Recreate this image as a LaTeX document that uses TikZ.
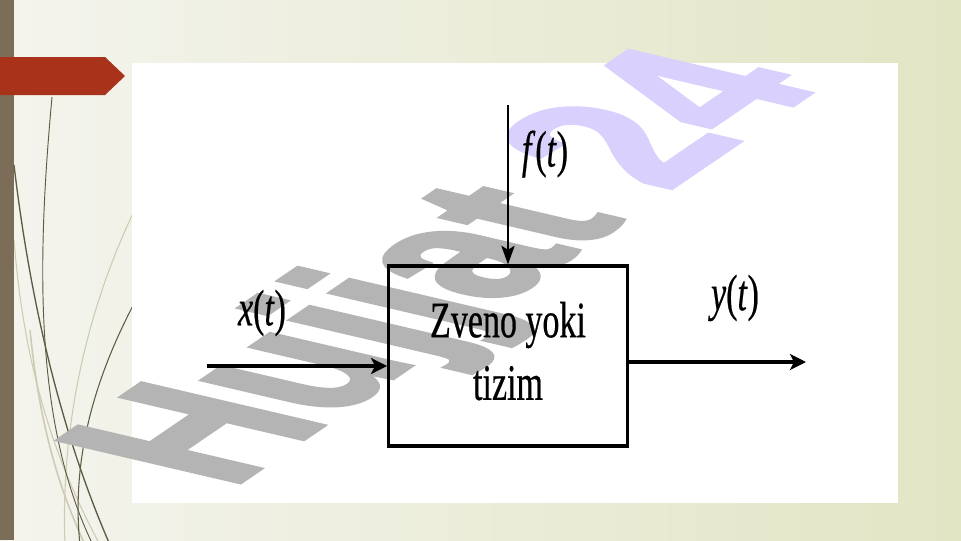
\documentclass[tikz,border=0pt]{standalone}
\usepackage{graphicx}
\usepackage{fontspec}
\setmainfont{Liberation Serif}[FakeBold=0.6]
\newfontfamily\markfont{Liberation Sans Bold}[FakeBold=2.5]
\usetikzlibrary{arrows.meta,calc}

\definecolor{slideleft}{HTML}{F4F4EE}
\definecolor{slideright}{HTML}{E2E5C4}
\definecolor{barbrown}{HTML}{7B6D58}
\definecolor{bannerred}{HTML}{A8321A}
\definecolor{stem}{HTML}{5F5B43}
\definecolor{stemlight}{HTML}{CFCAB2}
\definecolor{markgray}{HTML}{B4B4B4}
\definecolor{markpurple}{HTML}{D9D0FD}

\newcommand{\tall}[1]{\scalebox{1}[1.5]{#1}}

\begin{document}
\begin{tikzpicture}[x=0.75pt, y=-0.75pt]
		%%%%% START %%%%%
		\useasboundingbox (0, 0) rectangle (961, 540);
		
		\shade[left color=slideleft, right color=slideright] (0, 0) rectangle (961, 540);
		
		% grass stems behind the panel
		\draw[line width=0.8pt, color=stemlight] (150, 180) .. controls (90, 290) and (60, 420) .. (65, 545);
		\draw[line width=0.8pt, color=stemlight] (14, 240) .. controls (25, 380) and (60, 470) .. (100, 545);
		\draw[line width=1.2pt, color=stemlight] (30, 330) .. controls (40, 430) and (60, 490) .. (85, 545);
		\draw[line width=0.7pt, color=stem] (52, 97) .. controls (38, 250) and (32, 420) .. (93, 545);
		\draw[line width=1.0pt, color=stem] (14, 165) .. controls (30, 300) and (60, 430) .. (110, 545);
		\draw[line width=0.8pt, color=stem] (150, 275) .. controls (100, 360) and (70, 450) .. (80, 545);
		
		\fill[color=barbrown] (0, 0) rectangle (14, 540);
		\fill[color=bannerred] (0, 57) -- (105, 57) -- (125, 76) -- (105, 95) -- (0, 95) -- cycle;
		
		\fill[white] (132, 63) rectangle (898, 503);
		
		% watermark
		\begin{scope}[shift={(227, 491)}, cm={10.7, 7.3, -19.7, 4.6, (0, 0)}]
			\node[anchor=base west, inner sep=0, transform shape, font=\markfont\fontsize{10}{12}\selectfont] (mark) at (0, 0) {\textcolor{markgray}{Hujjat} \textcolor{markpurple}{24}};
		\end{scope}
		
		\node[draw, line width=2.4pt, minimum width=179pt, minimum height=135pt, inner sep=0, font=\fontsize{25.5}{31.3}\selectfont] (sys) at (508, 356) {\tall{\begin{tabular}{@{}c@{}}Zveno yoki\\tizim\end{tabular}}};
		
		\coordinate (fin) at (508, 105);
		\coordinate (xin) at (207, 366);
		\coordinate (yout) at (806, 362);
		
		\draw[line width=1.1pt, -{Stealth[length=14pt, width=10pt, inset=3pt]}] (fin) -- (sys.north);
		\draw[line width=2.3pt, -{Stealth[length=12pt, width=12pt, inset=3pt]}] (xin) -- (xin -| sys.west);
		\draw[line width=2.3pt, -{Stealth[length=12pt, width=12pt, inset=3pt]}] (yout -| sys.east) -- (yout);
		
		\node[font=\fontsize{25.5}{30}\selectfont] (flab) at (545, 154) {\tall{\textit{f}(\textit{t})}};
		\node[font=\fontsize{25.5}{30}\selectfont] (xlab) at (262, 313) {\tall{\textit{x}(\textit{t})}};
		\node[font=\fontsize{25.5}{30}\selectfont] (ylab) at (735, 298) {\tall{\textit{y}(\textit{t})}};
		
		%%%%% END %%%%%
\end{tikzpicture}
\end{document}
